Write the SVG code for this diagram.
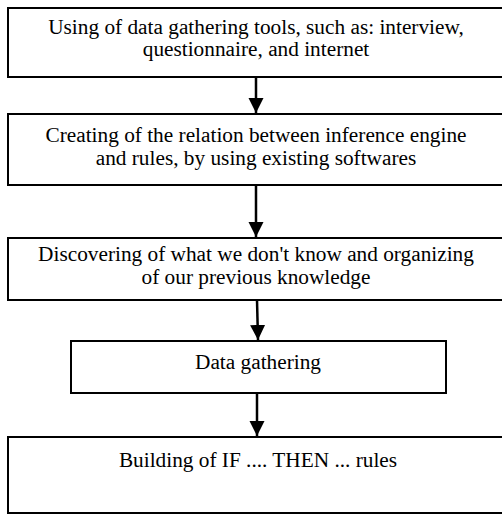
<svg xmlns="http://www.w3.org/2000/svg" width="502" height="514" viewBox="0 0 502 514">
<defs>
<style>
.box{fill:#fff;stroke:#000;stroke-width:2}
.t{font-family:"Liberation Serif","Times New Roman",serif;font-size:21.3px;fill:#000;text-anchor:middle}
.c{stroke:#000;stroke-width:2.5;fill:none}
</style>
<marker id="ah" markerWidth="16" markerHeight="16" refX="15" refY="7.5" markerUnits="userSpaceOnUse" orient="auto">
<path d="M0,0 L15,7.5 L0,15 z" fill="#000"/>
</marker>
</defs>
<rect width="502" height="514" fill="#fff"/>
<g id="connectors">
<line class="c" x1="256" y1="77" x2="256" y2="113" marker-end="url(#ah)"/>
<line class="c" x1="256" y1="185" x2="256" y2="237" marker-end="url(#ah)"/>
<line class="c" x1="257" y1="300" x2="258" y2="340" marker-end="url(#ah)"/>
<line class="c" x1="257" y1="393" x2="257" y2="436" marker-end="url(#ah)"/>
</g>
<g id="n1">
<rect class="box" x="8" y="8" width="496" height="69"/>
<text class="t" x="256" y="34">Using of data gathering tools, such as: interview,</text>
<text class="t" x="256" y="56">questionnaire, and internet</text>
</g>
<g id="n2">
<rect class="box" x="8" y="114" width="496" height="71"/>
<text class="t" x="256" y="142">Creating of the relation between inference engine</text>
<text class="t" x="256" y="165">and rules, by using existing softwares</text>
</g>
<g id="n3">
<rect class="box" x="8" y="238" width="496" height="62"/>
<text class="t" x="256" y="261">Discovering of what we don't know and organizing</text>
<text class="t" x="256" y="284">of our previous knowledge</text>
</g>
<g id="n4">
<rect class="box" x="71" y="341" width="375" height="52"/>
<text class="t" x="258" y="369">Data gathering</text>
</g>
<g id="n5">
<rect class="box" x="8" y="437" width="496" height="76"/>
<text class="t" x="258" y="467">Building of IF .... THEN ... rules</text>
</g>
</svg>
